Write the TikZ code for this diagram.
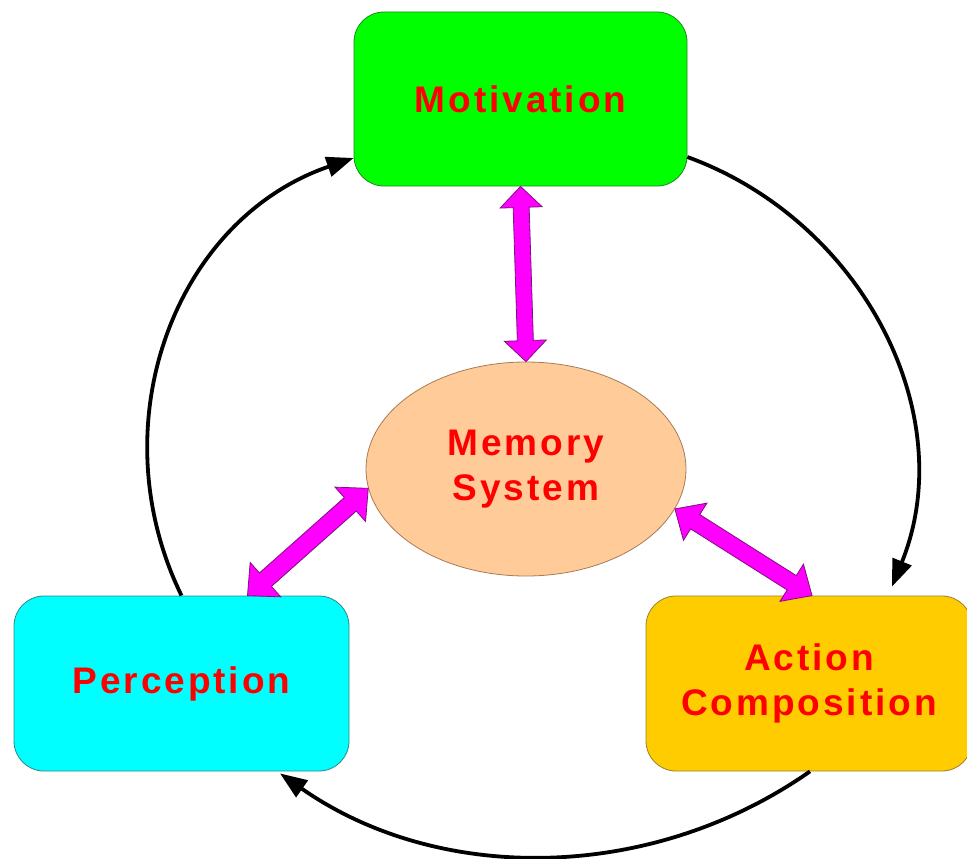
\documentclass[tikz,border=0pt]{standalone}
\usepackage{fontspec}
\setmainfont{Liberation Sans}
\newfontfamily\lblfont{Liberation Sans}[LetterSpace=8]
\usetikzlibrary{arrows.meta,calc,shapes.geometric}
\definecolor{mgreen}{HTML}{00FF00}
\definecolor{mgreenD}{HTML}{1B8A1B}
\definecolor{mcyan}{HTML}{00FFFF}
\definecolor{mcyanD}{HTML}{2A8A8A}
\definecolor{mgold}{HTML}{FFCC00}
\definecolor{mgoldD}{HTML}{9A8030}
\definecolor{mpeach}{HTML}{FFCC99}
\definecolor{mpeachD}{HTML}{A87A55}
\definecolor{mmag}{HTML}{FF00FF}
\definecolor{mmagD}{HTML}{7F107F}
\definecolor{mred}{HTML}{FF0000}
% #1 head length, #2 head half width, #3 shaft half width, #4 #5 tips
\newcommand\dblarrow[5]{%
  \path[blk] (#4)
    -- ($($(#4)!#1!(#5)$)!#2!90:(#5)$)
    -- ($($(#4)!#1!(#5)$)!#3!90:(#5)$)
    -- ($($(#5)!#1!(#4)$)!#3!-90:(#4)$)
    -- ($($(#5)!#1!(#4)$)!#2!-90:(#4)$)
    -- (#5)
    -- ($($(#5)!#1!(#4)$)!#2!90:(#4)$)
    -- ($($(#5)!#1!(#4)$)!#3!90:(#4)$)
    -- ($($(#4)!#1!(#5)$)!#3!-90:(#5)$)
    -- ($($(#4)!#1!(#5)$)!#2!-90:(#5)$)
    -- cycle;}
\begin{document}
\begin{tikzpicture}[x=1pt,y=1pt,
  lbl/.style={font=\lblfont\bfseries\fontsize{37}{45}\selectfont, text=mred, align=center},
  box/.style={rectangle, rounded corners=30pt, line width=0.8pt, inner sep=0pt,
    minimum height=175pt, lbl},
  blk/.style={fill=mmag, draw=mmagD, line width=0.8pt, line join=miter},
  cyc/.style={line width=3.8pt, -{Triangle[length=27pt,width=20pt]}}]
\useasboundingbox (0,0) rectangle (967,-859);
\begin{scope}
\clip (0,0) rectangle (967,-859);
\node[box, fill=mgreen, draw=mgreenD, minimum width=333pt, minimum height=174pt] (mot) at (520.5,-99) {Motivation};
\node[box, fill=mcyan, draw=mcyanD, minimum width=335pt] (per) at (181.5,-683.5) {Perception};
\node[box, fill=mgold, draw=mgoldD, minimum width=326pt] (act) at (809,-683.5) {Action\\Composition};
\node[ellipse, lbl, fill=mpeach, draw=mpeachD, line width=0.8pt, inner sep=0pt,
  minimum width=320pt, minimum height=214pt] (mem) at (526,-469) {Memory\\System};

% magenta double block arrows
\coordinate (pm) at ($(per.north)+(66,0)$);
\coordinate (am) at ($(act.north)+(3,0)$);
\dblarrow{21pt}{21pt}{8pt}{mot.south}{mem.north}
\dblarrow{24pt}{23pt}{9pt}{mem.187}{pm}
\dblarrow{24pt}{22pt}{8.5pt}{mem.345}{am}

% black cycle arrows
\coordinate (motL) at ($(mot.west)+(0,-59)$);
\coordinate (motR) at ($(mot.east)+(0,-58)$);
\coordinate (actT) at ($(act.north)+(83,9)$);
\coordinate (actB) at ($(act.south)+(1,0)$);
\coordinate (perB) at ($(per.south)+(98.5,-2)$);
\draw[cyc] (per.north) to[out=116,in=-161,distance=190pt] (motL);
\draw[cyc] (motR) to[out=-20,in=68,distance=186pt] (actT);
\draw[cyc] (actB) to[out=-145,in=-35,distance=194pt] (perB);
\end{scope}
\end{tikzpicture}
\end{document}
